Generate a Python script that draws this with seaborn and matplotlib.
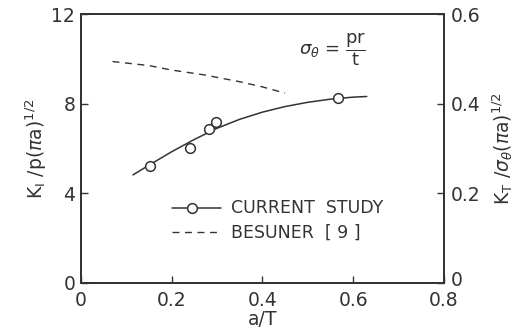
import matplotlib
matplotlib.use("Agg")
import matplotlib.pyplot as plt
import matplotlib.transforms as mtransforms
import seaborn as sns

sns.set_style("ticks")
plt.rcParams['font.family'] = ['DejaVu Sans']
plt.rcParams['mathtext.fontset'] = 'dejavusans'

ink = '#333333'

# measured points (current study)
pt_x = [0.152, 0.240, 0.283, 0.299, 0.567]
pt_y = [5.22, 6.03, 6.86, 7.20, 8.24]

# fitted curve through the points
fit_x = [0.115, 0.15, 0.2, 0.25, 0.3, 0.35, 0.4, 0.45, 0.5, 0.55, 0.6, 0.63]
fit_y = [4.82, 5.25, 5.85, 6.4, 6.9, 7.3, 7.62, 7.87, 8.06, 8.2, 8.29, 8.32]

# Besuner [9]
bes_x = [0.07, 0.15, 0.2, 0.27, 0.35, 0.4, 0.45]
bes_y = [9.88, 9.7, 9.5, 9.29, 8.98, 8.75, 8.47]

x_ticks = [0, 0.2, 0.4, 0.6, 0.8]
x_labels = ['0', '0.2', '0.4', '0.6', '0.8']
y_ticks = [0, 4, 8, 12]
y2_ticks = [0, 0.2, 0.4, 0.6]

fig = plt.figure(figsize=(5.21, 3.34), dpi=100)
ax = fig.add_axes([0.155, 0.153, 0.697, 0.805])

sns.lineplot(x=fit_x, y=fit_y, ax=ax, color=ink, lw=1.1, sort=False)
sns.lineplot(x=bes_x, y=bes_y, ax=ax, color=ink, lw=1.0, linestyle=(0, (5, 4)), sort=False)
ax.plot(pt_x, pt_y, 'o', mfc='white', mec=ink, mew=1.1, ms=7, ls='none')

ax.set_xlim(0, 0.8)
ax.set_ylim(0, 12)
ax.set_xticks(x_ticks)
ax.set_xticklabels(x_labels)
ax.set_yticks(y_ticks)
ax.tick_params(direction='in', length=5, width=1, colors=ink, labelsize=13.5, pad=4)
ax.tick_params(axis='x', pad=6)
for s in ax.spines.values():
    s.set_color(ink)
    s.set_linewidth(1.3)

ax.set_xlabel('a/T', fontsize=13.5, color=ink, labelpad=0)
ax.set_ylabel(r'K$_\mathrm{I}$ /p($\pi$a)$^{1/2}$', fontsize=13.5, color=ink, labelpad=2)

ax2 = ax.twinx()
ax2.set_ylim(0, 0.6)
ax2.set_yticks(y2_ticks)
ax2.set_yticklabels(['0', '0.2', '0.4', '0.6'])
ax2.tick_params(direction='in', length=5, width=1, colors=ink, labelsize=13.5, pad=5)
for s in ax2.spines.values():
    s.set_color(ink)
    s.set_linewidth(1.3)
ax2.set_ylabel(r'K$_\mathrm{T}$ /$\sigma_\theta$($\pi$a)$^{1/2}$', fontsize=13.5, color=ink, labelpad=7)

# nudge the right-hand "0" up so it clears the "0.8" below it
lab0 = ax2.get_yticklabels()[0]
lab0.set_transform(lab0.get_transform() + mtransforms.ScaledTranslation(0, 3 / 72, fig.dpi_scale_trans))

ax.text(0.48, 10.45, r'$\sigma_\theta$ = $\dfrac{\mathrm{pr}}{\mathrm{t}}$', fontsize=13, color=ink, va='center')

# legend drawn by hand
ax.plot([0.2, 0.31], [3.35, 3.35], color=ink, lw=1.1)
ax.plot([0.245], [3.35], 'o', mfc='white', mec=ink, mew=1.1, ms=7)
ax.plot([0.2, 0.31], [2.25, 2.25], color=ink, lw=1.0, linestyle=(0, (5, 4)))
ax.text(0.33, 3.35, 'CURRENT  STUDY', fontsize=12.5, color=ink, va='center')
ax.text(0.33, 2.25, 'BESUNER  [ 9 ]', fontsize=12.5, color=ink, va='center')

fig.savefig('out.png', dpi=100)
